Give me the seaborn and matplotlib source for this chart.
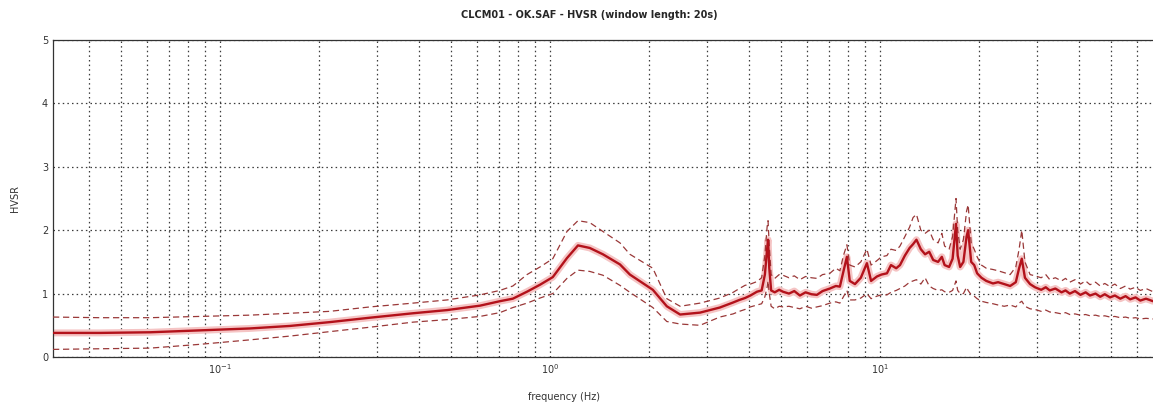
import numpy as np
import pandas as pd
import matplotlib
matplotlib.use("Agg")
import matplotlib.pyplot as plt
from matplotlib.ticker import LogLocator, NullFormatter, FixedLocator
import seaborn as sns

# frequency (Hz), mean H/V, mean*std (upper), mean/std (lower)
freq = [0.0312, 0.0433, 0.0614, 0.087, 0.123, 0.163, 0.215, 0.285, 0.385, 0.488,
        0.614, 0.705, 0.772, 0.852, 0.933, 1.02, 1.126, 1.216, 1.32, 1.447,
        1.63, 1.747, 2.05, 2.26, 2.48, 2.85, 3.27, 3.59, 3.75, 3.90,
        4.05, 4.24, 4.38, 4.48, 4.55, 4.58, 4.62, 4.68, 4.80, 4.95,
        5.08, 5.30, 5.50, 5.72, 5.95, 6.20, 6.44, 6.70, 7.05, 7.35,
        7.56, 7.75, 7.94, 8.10, 8.40, 8.75, 9.13, 9.40, 9.79, 10.1,
        10.5, 10.8, 11.2, 11.5, 11.9, 12.3, 12.6, 12.9, 13.3, 13.7,
        14.1, 14.5, 15.0, 15.4, 15.7, 16.2, 16.6, 17.0, 17.2, 17.5,
        17.9, 18.3, 18.5, 18.9, 19.3, 19.7, 20.3, 21.0, 22.0, 22.8,
        23.8, 24.8, 25.8, 26.4, 26.9, 27.5, 28.5, 29.5, 30.8, 31.8,
        32.7, 34.0, 35.5, 36.5, 37.6, 39.0, 40.5, 42.0, 43.3, 45.0,
        46.5, 48.0, 49.8, 51.5, 53.5, 55.5, 57.3, 59.5, 61.5, 64.0,
        67.2]
hv_mean = [0.38, 0.38, 0.39, 0.42, 0.45, 0.49, 0.55, 0.62, 0.69, 0.74,
           0.81, 0.88, 0.92, 1.03, 1.14, 1.26, 1.56, 1.76, 1.72, 1.62,
           1.46, 1.30, 1.06, 0.80, 0.67, 0.70, 0.78, 0.86, 0.90, 0.93,
           0.97, 1.03, 1.05, 1.30, 1.70, 1.85, 1.40, 1.05, 1.02, 1.06,
           1.03, 1.00, 1.04, 0.97, 1.02, 0.99, 0.98, 1.04, 1.08, 1.12,
           1.11, 1.35, 1.58, 1.20, 1.15, 1.25, 1.48, 1.20, 1.27, 1.30,
           1.32, 1.45, 1.40, 1.45, 1.60, 1.72, 1.78, 1.85, 1.70, 1.62,
           1.66, 1.53, 1.50, 1.58, 1.45, 1.42, 1.55, 2.10, 1.60, 1.42,
           1.50, 1.90, 2.00, 1.50, 1.45, 1.32, 1.25, 1.20, 1.16, 1.18,
           1.15, 1.12, 1.18, 1.40, 1.55, 1.25, 1.15, 1.10, 1.06, 1.10,
           1.05, 1.08, 1.02, 1.05, 1.00, 1.04, 0.98, 1.02, 0.97, 1.00,
           0.95, 0.99, 0.94, 0.97, 0.92, 0.96, 0.91, 0.94, 0.89, 0.92,
           0.88]
hv_upper = [0.63, 0.62, 0.62, 0.64, 0.66, 0.69, 0.72, 0.79, 0.85, 0.90,
            0.98, 1.05, 1.12, 1.30, 1.42, 1.55, 1.98, 2.15, 2.12, 1.98,
            1.80, 1.62, 1.40, 0.92, 0.80, 0.85, 0.93, 1.02, 1.08, 1.13,
            1.15, 1.19, 1.25, 1.60, 2.05, 2.15, 1.75, 1.30, 1.24, 1.30,
            1.29, 1.25, 1.28, 1.22, 1.27, 1.25, 1.24, 1.30, 1.32, 1.40,
            1.36, 1.60, 1.77, 1.45, 1.42, 1.50, 1.70, 1.45, 1.52, 1.58,
            1.60, 1.70, 1.68, 1.75, 1.90, 2.05, 2.20, 2.25, 2.00, 1.95,
            2.00, 1.85, 1.80, 1.95, 1.75, 1.70, 1.90, 2.50, 2.00, 1.70,
            1.85, 2.30, 2.40, 1.80, 1.70, 1.58, 1.45, 1.40, 1.38, 1.36,
            1.33, 1.30, 1.42, 1.70, 2.00, 1.50, 1.30, 1.28, 1.25, 1.30,
            1.22, 1.25, 1.20, 1.24, 1.18, 1.22, 1.15, 1.20, 1.14, 1.18,
            1.12, 1.16, 1.11, 1.15, 1.08, 1.12, 1.07, 1.10, 1.05, 1.08,
            1.03]
hv_lower = [0.12, 0.13, 0.14, 0.20, 0.27, 0.33, 0.40, 0.47, 0.55, 0.59,
            0.64, 0.70, 0.78, 0.85, 0.93, 1.00, 1.24, 1.37, 1.35, 1.29,
            1.13, 1.02, 0.78, 0.56, 0.52, 0.50, 0.63, 0.68, 0.72, 0.75,
            0.79, 0.82, 0.84, 0.95, 1.10, 1.20, 1.00, 0.80, 0.76, 0.80,
            0.79, 0.80, 0.78, 0.76, 0.80, 0.77, 0.79, 0.81, 0.85, 0.87,
            0.85, 0.95, 1.05, 0.90, 0.90, 0.93, 1.00, 0.92, 0.96, 0.98,
            0.98, 1.02, 1.05, 1.08, 1.12, 1.18, 1.20, 1.22, 1.15, 1.25,
            1.12, 1.08, 1.05, 1.06, 1.03, 1.02, 1.05, 1.20, 1.05, 1.00,
            1.00, 1.10, 1.05, 0.98, 0.96, 0.92, 0.88, 0.86, 0.84, 0.82,
            0.80, 0.82, 0.79, 0.85, 0.88, 0.80, 0.76, 0.75, 0.72, 0.74,
            0.71, 0.70, 0.68, 0.70, 0.67, 0.68, 0.66, 0.67, 0.65, 0.66,
            0.64, 0.65, 0.63, 0.64, 0.62, 0.63, 0.61, 0.62, 0.60, 0.61,
            0.60]

df = pd.DataFrame({"freq": freq, "mean": hv_mean, "upper": hv_upper, "lower": hv_lower})

sns.set_style("white")
plt.rcParams['font.family'] = ['DejaVu Sans']

fig = plt.figure(figsize=(11.53, 4.08), dpi=100)
ax = fig.add_axes([53/1153, 51/408, 1100/1153, 317/408])

# halo + mean curve
sns.lineplot(data=df, x="freq", y="mean", ax=ax, color="#f5c4c4", lw=5, zorder=2)
sns.lineplot(data=df, x="freq", y="mean", ax=ax, color="#b3121b", lw=1.7, zorder=4)
sns.lineplot(data=df, x="freq", y="upper", ax=ax, color="#9a3838", lw=0.9,
             zorder=3).lines[-1].set_dashes([5, 3])
sns.lineplot(data=df, x="freq", y="lower", ax=ax, color="#9a3838", lw=0.9,
             zorder=3).lines[-1].set_dashes([5, 3])

ax.set_xscale("log")
ax.set_xlim(0.0312, 67.2)
ax.set_ylim(0, 5)
ax.set_yticks([0, 1, 2, 3, 4, 5])
ax.xaxis.set_major_locator(FixedLocator([0.1, 1, 10]))
ax.set_xticklabels([r"$10^{-1}$", r"$10^{0}$", r"$10^{1}$"])
ax.xaxis.set_minor_locator(LogLocator(base=10, subs=np.arange(2, 10)))
ax.xaxis.set_minor_formatter(NullFormatter())

grid_style = dict(color="#3a3a3a", linestyle=(0, (1.2, 2.5)), lw=0.9)
ax.grid(True, which="major", axis="both", **grid_style)
ax.grid(True, which="minor", axis="x", **grid_style)
ax.set_axisbelow(True)

ax.tick_params(axis="both", which="both", direction="in", labelsize=7,
               labelcolor="#333333", length=3, color="black")
for s in ["left", "bottom", "top"]:
    ax.spines[s].set_color("#333333")
    ax.spines[s].set_linewidth(0.9)
ax.spines["right"].set_visible(False)

ax.set_xlabel("frequency (Hz)", fontsize=7, color="#333333")
ax.xaxis.set_label_coords(0.465, -0.11)
ax.set_ylabel("HVSR", fontsize=7, color="#333333", labelpad=16)
ax.set_title("CLCM01 - OK.SAF - HVSR (window length: 20s)", fontsize=7,
             fontweight="bold", x=0.488, pad=16)

fig.savefig("out.png", dpi=100)
